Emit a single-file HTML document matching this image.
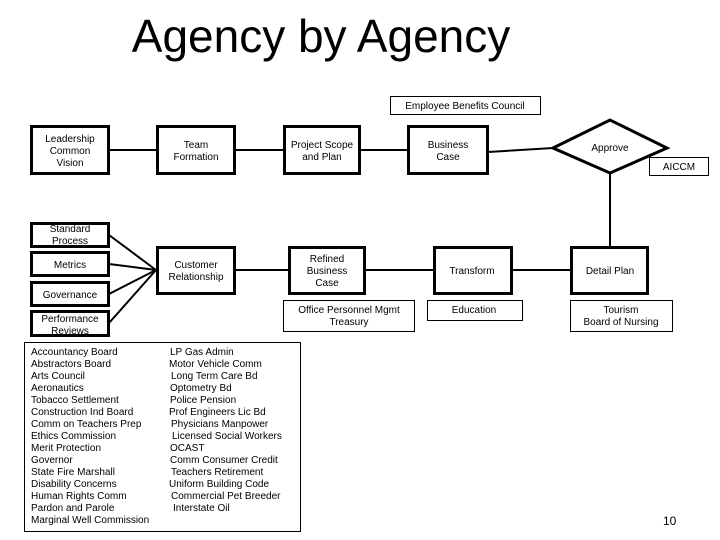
<!DOCTYPE html>
<html><head><meta charset="utf-8"><style>
html,body{margin:0;padding:0;background:#fff}
svg{display:block}
text{font-family:"Liberation Sans",sans-serif;fill:#000}
</style></head><body>
<svg width="720" height="540" viewBox="0 0 720 540" xmlns="http://www.w3.org/2000/svg">
<text x="321" y="52" font-size="46" text-anchor="middle">Agency by Agency</text>
<g fill="#fff" stroke="#000" stroke-width="1">
<rect x="390.5" y="96.5" width="150" height="18"/>
<rect x="649.5" y="157.5" width="59" height="18"/>
<rect x="283.5" y="300.5" width="131" height="31"/>
<rect x="427.5" y="300.5" width="95" height="20"/>
<rect x="570.5" y="300.5" width="102" height="31"/>
<rect x="24.5" y="342.5" width="276" height="189"/>
</g>
<g fill="none" stroke="#000" stroke-width="2">
<line x1="109" y1="150" x2="156" y2="150"/>
<line x1="235" y1="150" x2="283" y2="150"/>
<line x1="360" y1="150" x2="407" y2="150"/>
<line x1="488" y1="152" x2="553" y2="148"/>
<line x1="610" y1="173" x2="610" y2="246"/>
<line x1="570" y1="270" x2="512" y2="270"/>
<line x1="433" y1="270" x2="366" y2="270"/>
<line x1="235" y1="270" x2="288" y2="270"/>
<line x1="156" y1="270" x2="109" y2="235"/>
<line x1="156" y1="270" x2="109" y2="264"/>
<line x1="156" y1="270" x2="109" y2="294"/>
<line x1="156" y1="270" x2="109" y2="323"/>
</g>
<g fill="#fff" stroke="#000" stroke-width="3">
<rect x="31.5" y="126.5" width="77" height="47"/>
<rect x="157.5" y="126.5" width="77" height="47"/>
<rect x="284.5" y="126.5" width="75" height="47"/>
<rect x="408.5" y="126.5" width="79" height="47"/>
<polygon points="553,148 610,120 667,148 610,173"/>
<rect x="31.5" y="223.5" width="77" height="23"/>
<rect x="31.5" y="252.5" width="77" height="23"/>
<rect x="31.5" y="282.5" width="77" height="23"/>
<rect x="31.5" y="311.5" width="77" height="24"/>
<rect x="157.5" y="247.5" width="77" height="46"/>
<rect x="289.5" y="247.5" width="75" height="46"/>
<rect x="434.5" y="247.5" width="77" height="46"/>
<rect x="571.5" y="247.5" width="76" height="46"/>
</g>
<g font-size="10" text-anchor="middle">
<text x="465" y="109">Employee Benefits Council</text>
<text x="70" y="142">Leadership</text><text x="70" y="154">Common</text><text x="70" y="166">Vision</text>
<text x="196" y="148">Team</text><text x="196" y="160">Formation</text>
<text x="322" y="148">Project Scope</text><text x="322" y="160">and Plan</text>
<text x="448" y="148">Business</text><text x="448" y="160">Case</text>
<text x="610" y="151">Approve</text>
<text x="679" y="170">AICCM</text>
<text x="70" y="232">Standard</text><text x="70" y="244">Process</text>
<text x="70" y="268">Metrics</text>
<text x="70" y="298">Governance</text>
<text x="70" y="322">Performance</text><text x="70" y="334">Reviews</text>
<text x="196" y="268">Customer</text><text x="196" y="280">Relationship</text>
<text x="327" y="262">Refined</text><text x="327" y="274">Business</text><text x="327" y="286">Case</text>
<text x="472" y="274">Transform</text>
<text x="610" y="274">Detail Plan</text>
<text x="349" y="313">Office Personnel Mgmt</text><text x="349" y="325">Treasury</text>
<text x="474" y="313">Education</text>
<text x="621" y="313">Tourism</text><text x="621" y="325">Board of Nursing</text>
</g>
<g font-size="10">
<text x="31" y="355">Accountancy Board</text>
<text x="31" y="367">Abstractors Board</text>
<text x="31" y="379">Arts Council</text>
<text x="31" y="391">Aeronautics</text>
<text x="31" y="403">Tobacco Settlement</text>
<text x="31" y="415">Construction Ind Board</text>
<text x="31" y="427">Comm on Teachers Prep</text>
<text x="31" y="439">Ethics Commission</text>
<text x="31" y="451">Merit Protection</text>
<text x="31" y="463">Governor</text>
<text x="31" y="475">State Fire Marshall</text>
<text x="31" y="487">Disability Concerns</text>
<text x="31" y="499">Human Rights Comm</text>
<text x="31" y="511">Pardon and Parole</text>
<text x="31" y="523">Marginal Well Commission</text>
<text x="170" y="355">LP Gas Admin</text>
<text x="169" y="367">Motor Vehicle Comm</text>
<text x="171" y="379">Long Term Care Bd</text>
<text x="170" y="391">Optometry Bd</text>
<text x="170" y="403">Police Pension</text>
<text x="169" y="415">Prof Engineers Lic Bd</text>
<text x="171" y="427">Physicians Manpower</text>
<text x="172" y="439">Licensed Social Workers</text>
<text x="170" y="451">OCAST</text>
<text x="170" y="463">Comm Consumer Credit</text>
<text x="171" y="475">Teachers Retirement</text>
<text x="169" y="487">Uniform Building Code</text>
<text x="171" y="499">Commercial Pet Breeder</text>
<text x="173" y="511">Interstate Oil</text>
</g>
<text x="663" y="525" font-size="12">10</text>
</svg>
</body></html>
